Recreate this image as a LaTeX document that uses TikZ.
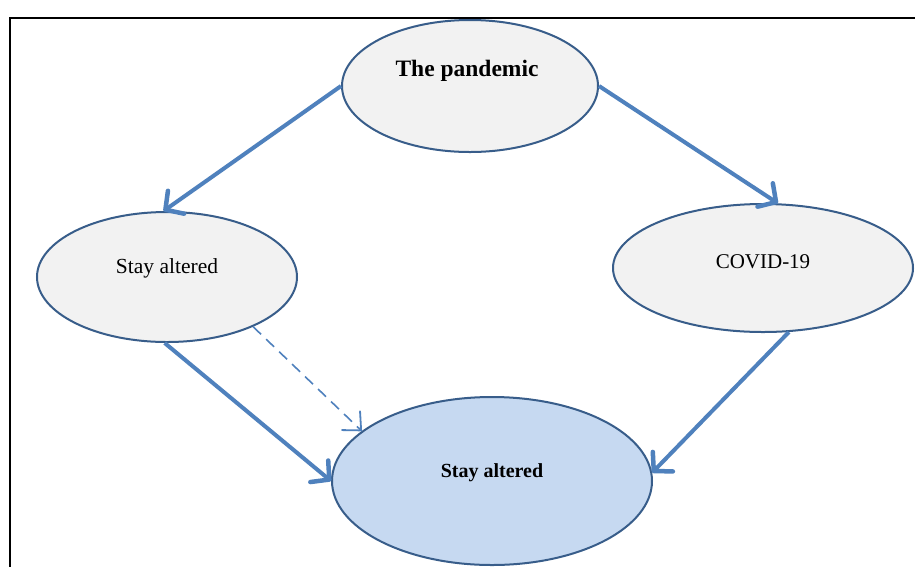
\documentclass[tikz,border=0pt]{standalone}
\usepackage{fontspec}
\setmainfont{Liberation Serif}
\usetikzlibrary{shapes.geometric,arrows.meta}

\definecolor{rimblue}{HTML}{385D8A}
\definecolor{flowblue}{HTML}{4F81BD}
\definecolor{ovalgray}{HTML}{F2F2F2}
\definecolor{ovalblue}{HTML}{C6D9F1}

\tikzset{
  oval/.style={ellipse, draw=rimblue, line width=2pt, fill=ovalgray, inner sep=0pt},
  flow/.style={draw=flowblue, line width=4pt,
    -{Straight Barb[length=13pt, width=28pt, line width=4.5pt, round]}},
  hint/.style={draw=flowblue, line width=1.6pt, dash pattern=on 11pt off 7pt,
    -{Straight Barb[length=14pt, width=26pt, line width=1.8pt, round]}},
}

\begin{document}
\begin{tikzpicture}[x=1pt, y=-1pt]
\useasboundingbox (0,0) rectangle (915,566);
\fill[white] (0,0) rectangle (915,566);
\draw[line width=2pt] (10,620) -- (10,18) -- (940,18);

\node[oval, minimum width=256pt, minimum height=132pt] (pandemic) at (470,86) {};
\node[oval, minimum width=260pt, minimum height=130pt] (stay) at (167,277) {};
\node[oval, minimum width=300pt, minimum height=128pt] (covid) at (763,268) {};
\node[oval, fill=ovalblue, minimum width=320pt, minimum height=168pt] (final) at (492,481) {};

\node[font=\fontsize{23.5}{26}\selectfont\bfseries] (pandemic-txt) at (467,71) {The pandemic};
\node[font=\fontsize{21.5}{24}\selectfont] (stay-txt) at (167,268) {Stay altered};
\node[font=\fontsize{21}{24}\selectfont] (covid-txt) at (763,262) {COVID-19};
\node[font=\fontsize{20}{23}\selectfont\bfseries] (final-txt) at (492,473) {Stay altered};

\draw[flow] (pandemic.west) -- (stay.93);
\draw[flow] (pandemic.east) -- (covid.77);
\draw[flow] (stay.268) -- (final.west);
\draw[flow] (covid.-68) -- (final.3);
\draw[hint] (stay.-30) -- (final.159);
\end{tikzpicture}
\end{document}
